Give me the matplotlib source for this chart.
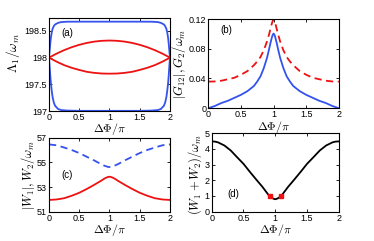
import matplotlib
matplotlib.use("Agg")
import matplotlib.pyplot as plt

plt.rcParams['font.family'] = ['Liberation Sans', 'DejaVu Sans']
plt.rcParams['mathtext.fontset'] = 'cm'

BLUE = '#3352ee'
RED = '#ee1111'

# ---- panel (a)
xa_blue = [0, 0.01, 0.02, 0.03, 0.045, 0.06, 0.08, 0.1, 0.15, 0.2, 0.3, 0.5, 0.75, 1.0,
           1.25, 1.5, 1.7, 1.8, 1.85, 1.9, 1.92, 1.94, 1.955, 1.97, 1.98, 1.99, 2.0]
a_blue_up = [198.0, 198.12, 198.25, 198.36, 198.47, 198.54, 198.59, 198.62, 198.65, 198.665,
             198.672, 198.673, 198.673, 198.673, 198.673, 198.673, 198.672, 198.665, 198.65,
             198.62, 198.59, 198.54, 198.47, 198.36, 198.25, 198.12, 198.0]
a_blue_lo = [198.0, 197.85, 197.68, 197.54, 197.38, 197.26, 197.16, 197.1, 197.04, 197.02,
             197.01, 197.005, 197.005, 197.005, 197.005, 197.005, 197.01, 197.02, 197.04,
             197.1, 197.16, 197.26, 197.38, 197.54, 197.68, 197.85, 198.0]
xa_red = [0, 0.125, 0.25, 0.375, 0.5, 0.625, 0.75, 0.875, 1.0,
          1.125, 1.25, 1.375, 1.5, 1.625, 1.75, 1.875, 2.0]
a_red_up = [198.0, 198.075, 198.14, 198.195, 198.24, 198.275, 198.3, 198.315, 198.32,
            198.315, 198.3, 198.275, 198.24, 198.195, 198.14, 198.075, 198.0]
a_red_lo = [198.0, 197.925, 197.86, 197.81, 197.77, 197.735, 197.715, 197.703, 197.70,
            197.703, 197.715, 197.735, 197.77, 197.81, 197.86, 197.925, 198.0]

# ---- panel (b)
xb = [0, 0.1, 0.2, 0.3, 0.4, 0.5, 0.6, 0.7, 0.75, 0.8, 0.85, 0.9, 0.93, 0.95, 0.97, 0.985, 1.0,
      1.015, 1.03, 1.05, 1.07, 1.1, 1.15, 1.2, 1.25, 1.3, 1.4, 1.5, 1.6, 1.7, 1.8, 1.9, 2.0]
b_blue = [0, 0.003, 0.007, 0.010, 0.014, 0.018, 0.023, 0.030, 0.036, 0.043, 0.054, 0.068,
          0.079, 0.087, 0.094, 0.0985, 0.1005,
          0.0985, 0.094, 0.087, 0.079, 0.068, 0.054, 0.043, 0.036, 0.030, 0.023, 0.018, 0.014,
          0.010, 0.007, 0.003, 0]
b_red = [0.0358, 0.036, 0.037, 0.039, 0.041, 0.045, 0.050, 0.058, 0.063, 0.069, 0.078, 0.09,
         0.099, 0.106, 0.113, 0.117, 0.1195,
         0.117, 0.113, 0.106, 0.099, 0.09, 0.078, 0.069, 0.063, 0.058, 0.050, 0.045, 0.041,
         0.039, 0.037, 0.036, 0.0358]

# ---- panel (c)
xc = [0, 0.125, 0.25, 0.375, 0.5, 0.625, 0.75, 0.85, 0.92, 0.97, 1.0,
      1.03, 1.08, 1.15, 1.25, 1.375, 1.5, 1.625, 1.75, 1.875, 2.0]
c_blue = [56.45, 56.38, 56.2, 56.0, 55.75, 55.45, 55.15, 54.88, 54.72, 54.64, 54.62,
          54.64, 54.72, 54.88, 55.15, 55.45, 55.75, 56.0, 56.2, 56.38, 56.45]
c_red = [51.96, 52.0, 52.1, 52.3, 52.54, 52.85, 53.19, 53.48, 53.7, 53.81, 53.84,
         53.81, 53.7, 53.48, 53.19, 52.85, 52.54, 52.3, 52.1, 52.0, 51.96]

# ---- panel (d)
xd = [0, 0.05, 0.1, 0.2, 0.3, 0.4, 0.5, 0.6, 0.7, 0.8, 0.85, 0.9, 0.95, 0.98, 1.0,
      1.02, 1.05, 1.1, 1.15, 1.2, 1.3, 1.4, 1.5, 1.6, 1.7, 1.8, 1.9, 1.95, 2.0]
d_black = [4.48, 4.47, 4.42, 4.22, 3.9, 3.47, 3.05, 2.54, 2.05, 1.57, 1.3, 1.03, 0.87, 0.81, 0.79,
           0.81, 0.87, 1.03, 1.3, 1.57, 2.05, 2.54, 3.05, 3.47, 3.9, 4.22, 4.42, 4.47, 4.48]
d_pts_x = [0.91, 1.09]
d_pts_y = [0.99, 0.99]

xticks = [0, 0.5, 1, 1.5, 2]
xticklabels = ['0', '0.5', '1', '1.5', '2']

fig = plt.figure(figsize=(3.74, 2.41), dpi=100)
axa = fig.add_axes([0.131, 0.539, 0.3235, 0.386])
axb = fig.add_axes([0.557, 0.551, 0.349, 0.370])
axc = fig.add_axes([0.131, 0.121, 0.3235, 0.308])
axd = fig.add_axes([0.566, 0.122, 0.340, 0.325])

LW = 1.3
axa.plot(xa_blue, a_blue_up, color=BLUE, lw=LW)
axa.plot(xa_blue, a_blue_lo, color=BLUE, lw=LW)
axa.plot(xa_red, a_red_up, color=RED, lw=LW)
axa.plot(xa_red, a_red_lo, color=RED, lw=LW)
axa.set_ylim(197, 198.74)
axa.set_yticks([197, 197.5, 198, 198.5])
axa.set_yticklabels(['197', '197.5', '198', '198.5'])
axa.set_ylabel(r'$\Lambda_1/\omega_m$', fontsize=9.5)

axb.plot(xb, b_blue, color=BLUE, lw=LW)
axb.plot(xb, b_red, color=RED, lw=LW, ls=(0, (4, 2.5)))
axb.set_ylim(0, 0.12)
axb.set_yticks([0, 0.04, 0.08, 0.12])
axb.set_yticklabels(['0', '0.04', '0.08', '0.12'])
axb.set_ylabel(r'$|G_{12}|, G_2/\omega_m$', fontsize=9)

axc.plot(xc, c_blue, color=BLUE, lw=LW, ls=(0, (4, 2.5)))
axc.plot(xc, c_red, color=RED, lw=LW)
axc.set_ylim(51, 57)
axc.set_yticks([51, 53, 55, 57])
axc.set_yticklabels(['51', '53', '55', '57'])
axc.set_ylabel(r'$|W_1|, W_2/\omega_m$', fontsize=9)

axd.plot(xd, d_black, color='black', lw=LW)
axd.plot(d_pts_x, d_pts_y, 's', color=RED, ms=3.2, mec=RED)
axd.set_ylim(0, 5)
axd.set_yticks([0, 1, 2, 3, 4, 5])
axd.set_yticklabels(['0', '1', '2', '3', '4', '5'])
axd.set_ylabel(r'$(W_1+W_2)/\omega_m$', fontsize=9)

axes = [axa, axb, axc, axd]
labels = ['(a)', '(b)', '(c)', '(d)']
lpos = [(0.1, 0.84), (0.09, 0.88), (0.1, 0.5), (0.12, 0.23)]
ylab_pos = [(-0.30, 0.62), (-0.225, 0.5), (-0.17, 0.5), (-0.13, 0.47)]
xlab_pos = [(0.5, -0.11), (0.5, -0.12), (0.5, -0.135), (0.5, -0.13)]
for ax, lab, (lx, ly), yp, xp in zip(axes, labels, lpos, ylab_pos, xlab_pos):
    ax.set_xlim(0, 2)
    ax.set_xticks(xticks)
    ax.set_xticklabels(xticklabels)
    ax.set_xlabel(r'$\Delta\Phi/\pi$', fontsize=8.5)
    ax.xaxis.label.set_verticalalignment('top')
    ax.yaxis.label.set_verticalalignment('center')
    ax.xaxis.set_label_coords(*xp)
    ax.yaxis.set_label_coords(*yp)
    ax.tick_params(direction='in', length=2.5, width=0.6, labelsize=6.5, pad=1.5,
                   top=True, right=True)
    for s in ax.spines.values():
        s.set_linewidth(0.8)
    ax.text(lx, ly, lab, transform=ax.transAxes, fontsize=7, va='center', ha='left')

fig.savefig('out.png', dpi=100)
